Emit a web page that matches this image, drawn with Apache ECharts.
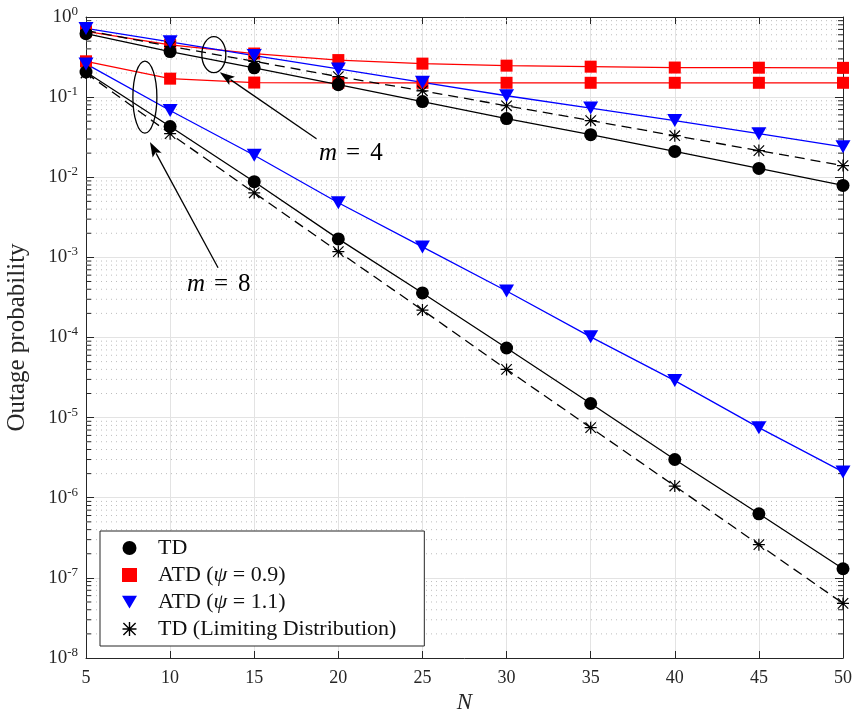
<!DOCTYPE html>
<html>
<head>
<meta charset="utf-8">
<script src="https://cdn.jsdelivr.net/npm/echarts@6/dist/echarts.min.js"></script>
<style>
html,body{margin:0;padding:0;background:#fff;}
#main{width:857px;height:715px;}
</style>
</head>
<body>
<div id="main"></div>
<script>
// ---------- data ----------
const N = [5, 10, 15, 20, 25, 30, 35, 40, 45, 50];
// m = 4
const td_m4   = [0.62, 0.37, 0.232, 0.143, 0.088, 0.054, 0.034, 0.021, 0.0129, 0.0079];
const atd09_m4 = [0.66, 0.45, 0.35, 0.29, 0.262, 0.247, 0.24, 0.234, 0.233, 0.232];
const atd11_m4 = [0.72, 0.49, 0.33, 0.225, 0.153, 0.104, 0.073, 0.051, 0.035, 0.024];
const tdl_m4  = [0.68, 0.43, 0.28, 0.18, 0.12, 0.078, 0.051, 0.033, 0.0215, 0.014];
// m = 8
const td_m8   = [0.206, 0.043, 0.0088, 0.0017, 3.6e-4, 7.4e-5, 1.5e-5, 3.0e-6, 6.3e-7, 1.3e-7];
const atd09_m8 = [0.28, 0.17, 0.152, 0.151, 0.151, 0.151, 0.151, 0.151, 0.151, 0.151];
const atd11_m8 = [0.26, 0.068, 0.0188, 0.0048, 1.35e-3, 3.8e-4, 1.02e-4, 2.9e-5, 7.5e-6, 2.1e-6];
const tdl_m8  = [0.2, 0.035, 0.0064, 0.00118, 2.2e-4, 4.0e-5, 7.5e-6, 1.4e-6, 2.6e-7, 4.8e-8];

const legendNames = ['TD', 'ATD (ψ = 0.9)', 'ATD (ψ = 1.1)', 'TD (Limiting Distribution)'];
const xTicks = [5, 10, 15, 20, 25, 30, 35, 40, 45, 50];
const yMin = 1e-8, yMax = 1;

// annotations in data coordinates [N, log10(y)]
const ellipseM4 = {c: [12.6, -0.47], rx: 12, ry: 18};
const ellipseM8 = {c: [8.5, -1.0], rx: 12, ry: 36};
const arrowM4 = {from: [18.7, -1.52], to: [12.95, -0.69]};
const arrowM8 = {from: [12.85, -3.13], to: [8.8, -1.56]};
const textM4 = {pos: [18.85, -1.70], label: '4'};
const textM8 = {pos: [11.0, -3.34], label: '8'};

// ---------- styles ----------
const FONT = '"Liberation Serif", "DejaVu Serif", serif';
const STAR = 'path://M0 45 L100 45 L100 55 L0 55 Z M45 0 L55 0 L55 100 L45 100 Z M10 3 L97 90 L90 97 L3 10 Z M90 3 L97 10 L10 97 L3 90 Z';
const TRI = 'path://M0 0 L100 0 L50 85 Z';

function pair(arr) { return N.map((n, i) => [n, arr[i]]); }

function mkSeries(name, arr, color, symbol, size, dashed) {
  return {
    name: name, type: 'line', data: pair(arr),
    symbol: symbol, symbolSize: size,
    showSymbol: true,
    lineStyle: {color: color, width: 1.3, type: dashed ? [10, 6] : 'solid'},
    itemStyle: {color: color},
    emphasis: {disabled: true},
    animation: false, z: 3
  };
}

// minor grid values (2..9 x 10^k)
const minorVals = [];
for (let k = -8; k < 0; k++) for (let j = 2; j <= 9; j++) minorVals.push(j * Math.pow(10, k));

const axisColor = '#262626';
const chart = echarts.init(document.getElementById('main'), null, {renderer: 'canvas'});

const option = {
  backgroundColor: '#fff',
  animation: false,
  grid: {left: 86, right: 14, top: 17, bottom: 57, containLabel: false, outerBoundsMode: 'none'},
  xAxis: [{
    type: 'value', min: 5, max: 50, interval: 5,
    name: 'N', nameLocation: 'middle', nameGap: 32,
    nameTextStyle: {fontFamily: FONT, fontSize: 23, fontStyle: 'italic', color: '#262626'},
    axisLine: {show: true, lineStyle: {color: axisColor, width: 1}},
    axisTick: {show: true, inside: true, length: 7, lineStyle: {color: axisColor}},
    axisLabel: {fontFamily: FONT, fontSize: 18, color: '#262626', margin: 11},
    splitLine: {show: true, lineStyle: {color: '#e3e3e3', width: 1}}
  }, {
    type: 'value', min: 5, max: 50, interval: 5, position: 'top',
    axisLine: {show: true, lineStyle: {color: axisColor, width: 1}},
    axisTick: {show: true, inside: true, length: 7, lineStyle: {color: axisColor}},
    axisLabel: {show: false}, splitLine: {show: false}
  }],
  yAxis: [{
    type: 'log', logBase: 10, min: yMin, max: yMax,
    name: 'Outage probability', nameLocation: 'middle', nameGap: 56,
    nameTextStyle: {fontFamily: FONT, fontSize: 25, color: '#262626'},
    axisLine: {show: true, lineStyle: {color: axisColor, width: 1}},
    axisTick: {show: true, inside: true, length: 8, lineStyle: {color: axisColor}},
    axisLabel: {
      fontFamily: FONT, fontSize: 19, color: '#262626', margin: 8,
      formatter: function (v) {
        const e = Math.round(Math.log10(v));
        return '10{sup|' + e + '}';
      },
      rich: {sup: {fontFamily: FONT, fontSize: 13, color: '#262626', verticalAlign: 'bottom', padding: [0, 0, 11, 0]}}
    },
    splitLine: {show: true, lineStyle: {color: '#e3e3e3', width: 1}}
  }, {
    type: 'log', logBase: 10, min: yMin, max: yMax, position: 'right',
    axisLine: {show: true, lineStyle: {color: axisColor, width: 1}},
    axisTick: {show: true, inside: true, length: 8, lineStyle: {color: axisColor}},
    axisLabel: {show: false}, splitLine: {show: false}
  }],
  legend: {
    orient: 'vertical', left: 100, top: 531,
    padding: [6, 28, 6, 22], itemGap: 5,
    itemWidth: 15, itemHeight: 14,
    backgroundColor: '#fff', borderColor: '#262626', borderWidth: 1, borderRadius: 0,
    data: [
      {name: legendNames[0], icon: 'circle', itemStyle: {color: '#000'}},
      {name: legendNames[1], icon: 'rect', itemStyle: {color: '#ff0000'}},
      {name: legendNames[2], icon: TRI, itemStyle: {color: '#0000ff'}},
      {name: legendNames[3], icon: STAR, itemStyle: {color: '#000'}}
    ],
    selectedMode: false,
    textStyle: {fontFamily: FONT, fontSize: 22, lineHeight: 22, color: '#111', padding: [0, 0, 0, 16],
      rich: {
        i: {fontFamily: FONT, fontSize: 22, lineHeight: 22, fontStyle: 'italic', color: '#111'},
        n: {fontFamily: FONT, fontSize: 22, lineHeight: 22, color: '#111'}
      }
    },
    formatter: function (name) {
      if (name.indexOf('ψ') >= 0) {
        const parts = name.split('ψ');
        return '{n|' + parts[0] + '}{i|ψ}{n|' + parts[1] + '}';
      }
      return '{n|' + name + '}';
    }
  },
  series: [
    {
      type: 'custom', name: 'minor', silent: true, clip: false, z: 1,
      xAxisIndex: 0, yAxisIndex: 0,
      data: minorVals.map(v => [5, v]),
      encode: {x: 0, y: 1},
      renderItem: function (params, api) {
        const v = api.value(1);
        const p0 = api.coord([5, v]);
        const p1 = api.coord([50, v]);
        return {
          type: 'group',
          children: [
            {type: 'line', shape: {x1: p0[0], y1: p0[1], x2: p1[0], y2: p1[1]},
             style: {stroke: '#bdbdbd', lineWidth: 1, lineDash: [1, 4]}},
            {type: 'line', shape: {x1: p0[0], y1: p0[1], x2: p0[0] + 5, y2: p0[1]},
             style: {stroke: axisColor, lineWidth: 1}},
            {type: 'line', shape: {x1: p1[0] - 5, y1: p1[1], x2: p1[0], y2: p1[1]},
             style: {stroke: axisColor, lineWidth: 1}}
          ]
        };
      },
      animation: false
    },
    mkSeries(legendNames[1], atd09_m4, '#ff0000', 'rect', 12, false),
    mkSeries(legendNames[1], atd09_m8, '#ff0000', 'rect', 12, false),
    mkSeries(legendNames[3], tdl_m4, '#000', STAR, 12, true),
    mkSeries(legendNames[3], tdl_m8, '#000', STAR, 12, true),
    mkSeries(legendNames[0], td_m4, '#000', 'circle', 13, false),
    mkSeries(legendNames[0], td_m8, '#000', 'circle', 13, false),
    mkSeries(legendNames[2], atd11_m4, '#0000ff', TRI, [15, 13], false),
    mkSeries(legendNames[2], atd11_m8, '#0000ff', TRI, [15, 13], false)
  ]
};
chart.setOption(option);

// ---------- annotations ----------
function px(p) { return chart.convertToPixel({gridIndex: 0}, [p[0], Math.pow(10, p[1])]); }
function arrow(a) {
  const f = px(a.from), t = px(a.to);
  const dx = t[0] - f[0], dy = t[1] - f[1];
  const L = Math.sqrt(dx * dx + dy * dy);
  const ux = dx / L, uy = dy / L;
  const hl = 15, hw = 5;
  const bx = t[0] - ux * hl, by = t[1] - uy * hl;
  return [
    {type: 'line', shape: {x1: f[0], y1: f[1], x2: bx + ux * 2, y2: by + uy * 2},
     style: {stroke: '#000', lineWidth: 1.3}, z: 50},
    {type: 'polygon', shape: {points: [[t[0], t[1]], [bx - uy * hw, by + ux * hw], [bx + ux * 3, by + uy * 3], [bx + uy * hw, by - ux * hw]]},
     style: {fill: '#000'}, z: 50}
  ];
}
function ell(e) {
  const c = px(e.c);
  return {type: 'ellipse', shape: {cx: c[0], cy: c[1], rx: e.rx, ry: e.ry},
    style: {fill: 'none', stroke: '#000', lineWidth: 1.3}, z: 50};
}
function txt(t) {
  const p = px(t.pos);
  return {type: 'text', x: p[0], y: p[1], z: 50,
    style: {text: '{i|m}{e|=}{n|' + t.label + '}', verticalAlign: 'middle', align: 'left',
      rich: {
        i: {fontFamily: FONT, fontSize: 25, fontStyle: 'italic', fill: '#000'},
        e: {fontFamily: FONT, fontSize: 25, fill: '#000', padding: [0, 10, 0, 9]},
        n: {fontFamily: FONT, fontSize: 25, fill: '#000'}
      }}};
}
const g = [ell(ellipseM4), ell(ellipseM8)]
  .concat(arrow(arrowM4)).concat(arrow(arrowM8))
  .concat([txt(textM4), txt(textM8)]);
chart.setOption({graphic: g});
</script>
</body>
</html>
